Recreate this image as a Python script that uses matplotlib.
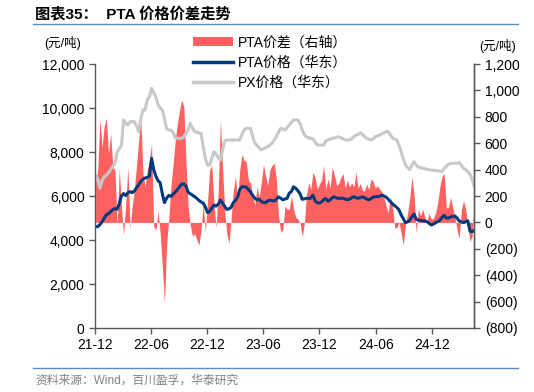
import matplotlib
matplotlib.use("Agg")
import matplotlib.pyplot as plt
import matplotlib.dates as mdates
from matplotlib.ticker import FuncFormatter, MultipleLocator
from matplotlib.patches import Patch
from matplotlib.lines import Line2D
import pandas as pd

plt.rcParams['font.family'] = ['Liberation Sans', 'Noto Sans CJK SC', 'DejaVu Sans']

# weekly observations (Fridays), 2021-12-03 .. 2025-04-18
dates = pd.date_range("2021-12-03", periods=177, freq="W-FRI")

# PTA spread, right axis (yuan/t)
spread = [
    300, 400, 788, 570, 730, 788, 520, 674, 420, 396,
    -30, 410, 119, -96, 140, 420, -45, 119, 250, 430,
    620, 800, 370, 270, 396, 465, 598, -30, -60, 85,
    -80, -330, -614, -170, 30, 270, 440, 620, 750, 850,
    927, 876, 460, 120, -20, -105, -85, -130, -172, -60,
    144, -71, 150, 400, 430, 140, -40, 250, 775, 420,
    80, -90, -159, 30, 240, 346, 170, 400, 515, 470,
    460, 320, 300, 200, 130, 270, 190, 300, 440, 350,
    280, 400, 430, 450, 330, 50, -70, -58, 125, 100,
    100, 200, 100, 40, 25, 0, -109, -10, 210, 300,
    250, 380, 340, 250, 290, 320, 430, 250, 330, 260,
    420, 360, 280, 295, 340, 370, 260, 320, 270, 300,
    270, 380, 260, 295, 240, 240, 290, 250, 330, 310,
    260, 280, 250, 235, 190, 125, 75, 194, 120, -40,
    -40, 0, -80, -172, -10, 70, 180, 346, 210, -83,
    100, 50, 100, 40, 5, 68, 25, 30, 70, 150,
    270, 346, 371, 110, 115, 190, 110, 45, -60, -120,
    100, 165, 100, -20, -146, -100, 144,
]

# PTA price, East China (yuan/t)
pta = [
    4606, 4606, 4700, 4820, 5000, 5150, 5200, 5290, 5380, 5430,
    5400, 5650, 6000, 6110, 6020, 6150, 6200, 6150, 6230, 6370,
    6520, 6660, 6760, 6820, 6850, 6900, 7712, 7200, 6900, 6700,
    6600, 6100, 5700, 5900, 6030, 5980, 6080, 6180, 6290, 6420,
    6540, 6550, 6450, 6170, 6100, 6040, 5970, 5900, 5800, 5730,
    5680, 5500, 5250, 5300, 5450, 5590, 5540, 5630, 5810, 5680,
    5530, 5390, 5420, 5480, 5700, 5800, 5950, 6300, 6424, 6424,
    6400, 6300, 6180, 6030, 5900, 5820, 5860, 5750, 5700, 5700,
    5780, 5810, 5790, 5770, 5850, 5960, 5900, 5830, 5860, 5894,
    6130, 6200, 6420, 6350, 6240, 6110, 5850, 5870, 5890, 5894,
    5900, 6040, 5780, 5690, 5680, 5730, 5840, 5880, 5760, 5820,
    5930, 5960, 5910, 5894, 5894, 5894, 5860, 5830, 5860, 5920,
    5969, 5920, 5900, 5930, 5960, 5920, 5860, 5830, 5880, 5950,
    5969, 5969, 5990, 6040, 6000, 5950, 5850, 5740, 5640, 5560,
    5480, 5370, 5140, 4960, 4790, 4820, 4900, 5061, 5180, 4950,
    4900, 4890, 4870, 4860, 4833, 4760, 4682, 4720, 4788, 4830,
    4900, 5030, 5120, 5000, 5000, 5050, 5070, 5090, 5000, 4860,
    4820, 4790, 4830, 4870, 4400, 4380, 4440,
]

# PX price, East China (yuan/t)
px = [
    6900, 6800, 6350, 6700, 6870, 6950, 7050, 7200, 7350, 7480,
    8000, 8150, 8300, 9454, 9300, 9230, 9380, 9380, 9380, 9200,
    8924, 9500, 9909, 9909, 10364, 10500, 10894, 10700, 10500, 10150,
    10000, 9909, 9500, 9050, 9000, 9000, 8900, 8650, 8621, 8621,
    8621, 8700, 8850, 9000, 9303, 9100, 8924, 8900, 8870, 8848,
    8250, 7700, 7409, 7409, 7700, 8015, 7900, 7750, 7636, 8100,
    8500, 8545, 8545, 8545, 8545, 8545, 8545, 8545, 8800, 9000,
    9076, 9076, 9076, 8700, 8400, 8300, 8200, 8100, 8150, 8200,
    8250, 8318, 8400, 8550, 8697, 8900, 9076, 9040, 9000, 9100,
    9230, 9350, 9455, 9455, 9455, 9300, 9000, 8800, 8680, 8650,
    8621, 8600, 8450, 8318, 8318, 8318, 8318, 8500, 8545, 8580,
    8621, 8640, 8670, 8697, 8650, 8600, 8545, 8545, 8545, 8600,
    8700, 8760, 8800, 8879, 8800, 8700, 8621, 8580, 8545, 8600,
    8697, 8730, 8773, 8820, 8870, 8924, 8924, 8780, 8621, 8580,
    8545, 8300, 8000, 7700, 7409, 7300, 7200, 7400, 7561, 7400,
    7320, 7290, 7260, 7240, 7220, 7190, 7180, 7170, 7160, 7150,
    7130, 7106, 7250, 7350, 7430, 7485, 7485, 7485, 7485, 7530,
    7400, 7258, 7200, 7100, 6990, 6750, 6424,
]

labels = ["PTA价差（右轴）", "PTA价格（华东）", "PX价格（华东）"]
RED = "#FF6161"
NAVY = "#003A7D"
GREY = "#C8C8C8"
AXC = "#595959"

fig = plt.figure(figsize=(5.34, 3.92), dpi=100)
ax = fig.add_axes([95 / 534, 1 - 328 / 392, 379.3 / 534, 264 / 392])
ax2 = ax.twinx()

ax2.fill_between(dates, spread, 0, color=RED, linewidth=0)
ax.plot(dates, px, color=GREY, linewidth=2.2)
ax.plot(dates, pta, color=NAVY, linewidth=2.2)

ax.set_zorder(ax2.get_zorder() + 1)
ax.patch.set_visible(False)

ax.set_xlim(pd.Timestamp("2021-12-01"), dates[-1])
ax.set_ylim(0, 12000)
ax2.set_ylim(-800, 1200)
ax.yaxis.set_major_locator(MultipleLocator(2000))
ax2.yaxis.set_major_locator(MultipleLocator(200))
ax.yaxis.set_major_formatter(FuncFormatter(lambda v, p: f"{v:,.0f}"))
ax2.yaxis.set_major_formatter(
    FuncFormatter(lambda v, p: f"({abs(v):,.0f})" if v < 0 else f"{v:,.0f}"))
ax.xaxis.set_major_locator(mdates.MonthLocator(bymonth=[6, 12]))
ax.xaxis.set_major_formatter(mdates.DateFormatter("%y-%m"))

for a in (ax, ax2):
    a.spines["top"].set_visible(False)
    for s in ("left", "right", "bottom"):
        a.spines[s].set_color(AXC)
        a.spines[s].set_linewidth(1.0)
    a.tick_params(colors=AXC, labelcolor="black", labelsize=10, length=4,
                  direction="out", width=1.0)
ax2.spines["left"].set_visible(False)
ax2.spines["bottom"].set_visible(False)

handles = [Patch(facecolor=RED, edgecolor="none"),
           Line2D([], [], color=NAVY, linewidth=2.5),
           Line2D([], [], color=GREY, linewidth=2.5)]
fig.legend(handles, labels, loc="upper left", bbox_to_anchor=(180 / 534, 1 - 23 / 392),
           frameon=False, fontsize=10, handlelength=2.9, handleheight=0.6,
           labelspacing=0.45, handletextpad=0.35)

fig.text(63 / 534, 1 - 43 / 392, "(元/吨)", fontsize=9, ha="center", va="center")
fig.text(498 / 534, 1 - 46 / 392, "(元/吨)", fontsize=9, ha="center", va="center")

fig.text(35 / 534, 1 - 14 / 392, "图表35：  PTA 价格价差走势", fontsize=11,
         fontweight="bold", ha="left", va="center")
fig.add_artist(Line2D([33 / 534, 518 / 534], [1 - 24 / 392, 1 - 24 / 392],
                      color="#5B8CC8", linewidth=1.0))
fig.add_artist(Line2D([33 / 534, 518 / 534], [1 - 368 / 392, 1 - 368 / 392],
                      color="#5B8CC8", linewidth=1.0))
fig.text(35 / 534, 1 - 381 / 392, "资料来源：Wind，百川盈孚，华泰研究", fontsize=8.5,
         color="#808080", ha="left", va="center")

fig.savefig("out.png", dpi=100)
